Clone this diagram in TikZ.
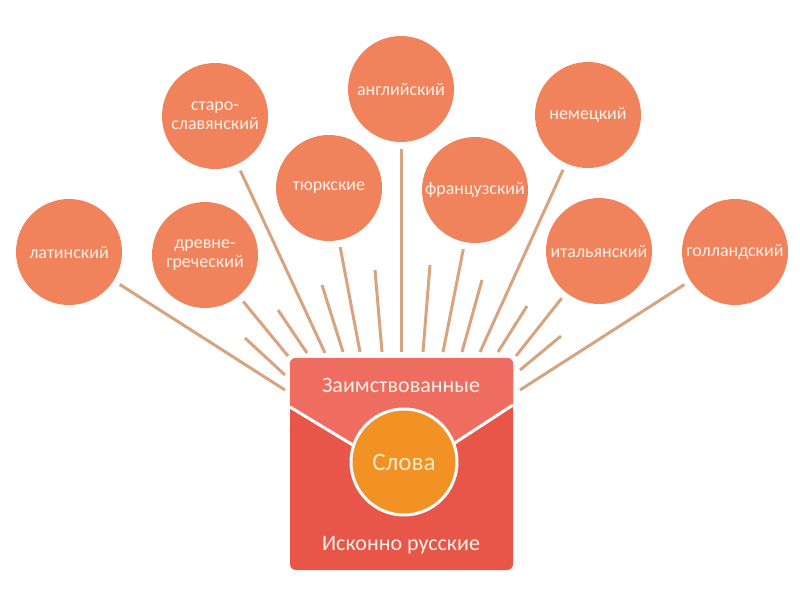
\documentclass[tikz,border=0pt]{standalone}
\usepackage{fontspec}
\setmainfont{Carlito}
\definecolor{circ}{RGB}{241,131,92}
\definecolor{ctext}{RGB}{253,240,230}
\definecolor{boxlow}{RGB}{232,86,74}
\definecolor{boxup}{RGB}{238,108,96}
\definecolor{centc}{RGB}{242,146,36}
\definecolor{cream}{RGB}{250,232,195}
\definecolor{linec}{RGB}{216,164,128}
\begin{document}
\begin{tikzpicture}[x=1pt,y=-1pt,
  lang/.style={circle, fill=circ, minimum size=106pt, inner sep=0pt, text=ctext,
    font=\fontsize{18}{19}\selectfont, align=center},
  link/.style={draw=linec, line width=3pt},
  mainlink/.style={link, shorten <=7pt},
  boxlabel/.style={text=ctext, font=\fontsize{22}{24}\selectfont, inner sep=0pt}
]
\useasboundingbox (0,0) rectangle (800,600);
% language circles
\node[lang] (lat) at (69,252) {латинский};
\node[lang] (gre) at (205,255) {древне-\\греческий};
\node[lang] (sta) at (215,116) {старо-\\славянский};
\node[lang] (tur) at (329,188) {тюркские};
\node[lang] (eng) at (401,89) {английский};
\node[lang] (fra) at (475,190) {французский};
\node[lang] (ger) at (588,115) {немецкий};
\node[lang] (ita) at (599,251) {итальянский};
\node[lang] (dut) at (735,252) {голландский};
% box end points of connectors
\coordinate (elat) at (285,390);
\coordinate (egre) at (288,356);
\coordinate (esta) at (325,353);
\coordinate (etur) at (360,352);
\coordinate (eeng) at (401,352);
\coordinate (efra) at (443,352);
\coordinate (eger) at (480,352);
\coordinate (eita) at (516,356);
\coordinate (edut) at (520,390);
\foreach \n in {lat,gre,sta,tur,eng,fra,ger,ita,dut}
  \draw[mainlink] (\n) -- (e\n);
% decorative rays
\coordinate (d1a) at (245,338); \coordinate (d1b) at (285,375);
\coordinate (d2a) at (278,310); \coordinate (d2b) at (307,353);
\coordinate (d3a) at (322,285); \coordinate (d3b) at (343,352);
\coordinate (d4a) at (375,270); \coordinate (d4b) at (382,352);
\coordinate (d5a) at (430,265); \coordinate (d5b) at (423,352);
\coordinate (d6a) at (482,280); \coordinate (d6b) at (462,352);
\coordinate (d7a) at (527,306); \coordinate (d7b) at (498,352);
\coordinate (d8a) at (561,336); \coordinate (d8b) at (520,370);
\foreach \i in {1,...,8}
  \draw[link] (d\i a) -- (d\i b);
% envelope box
\node[fill=boxlow, rounded corners=6pt, minimum width=223pt, minimum height=212pt,
  inner sep=0pt] (box) at (401.5,464) {};
\begin{scope}
  \clip[rounded corners=6pt] (box.south west) rectangle (box.north east);
  \coordinate (fl) at (290,407);
  \coordinate (fr) at (513,405);
  \coordinate (apex) at (404,476);
  \fill[boxup] (box.north west) -- (fl) -- (apex) -- (fr) -- (box.north east) -- cycle;
  \draw[white, line width=3pt] (fl) -- (apex) -- (fr);
\end{scope}
\node[circle, fill=centc, draw=white, line width=3pt, minimum size=106pt, inner sep=0pt,
  text=cream, font=\fontsize{25}{25}\selectfont] (slova) at (404,462) {Слова};
\node[boxlabel] (zaim) at (401,385) {Заимствованные};
\node[boxlabel] (isk) at (401,545) {Исконно русские};
\end{tikzpicture}
\end{document}
